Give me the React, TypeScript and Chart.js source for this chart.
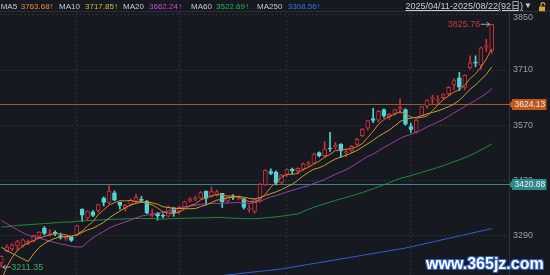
import React, { useEffect, useRef } from "react";
import { Chart, registerables } from "chart.js";

Chart.register(...registerables);

const FONT = "'Liberation Sans', Arial, 'Noto Sans CJK SC', sans-serif";
const BG = "#161a20";
const UP = "#c9303a";
const DOWN = "#4fd6d6";
const GRID = "#2b2f37";
const TICK_COLOR = "#9a9ea6";

const dates = [
  "2025/04/11", "2025/04/14", "2025/04/15", "2025/04/16", "2025/04/17", "2025/04/18", "2025/04/21", "2025/04/22", "2025/04/23", "2025/04/24", "2025/04/25", "2025/04/28", "2025/04/29", "2025/04/30",
  "2025/05/06", "2025/05/07", "2025/05/08", "2025/05/09", "2025/05/12", "2025/05/13", "2025/05/14", "2025/05/15", "2025/05/16", "2025/05/19", "2025/05/20", "2025/05/21", "2025/05/22", "2025/05/23", "2025/05/26", "2025/05/27", "2025/05/28", "2025/05/29", "2025/05/30",
  "2025/06/03", "2025/06/04", "2025/06/05", "2025/06/06", "2025/06/09", "2025/06/10", "2025/06/11", "2025/06/12", "2025/06/13", "2025/06/16", "2025/06/17", "2025/06/18", "2025/06/19", "2025/06/20", "2025/06/23", "2025/06/24", "2025/06/25", "2025/06/26", "2025/06/27", "2025/06/30",
  "2025/07/01", "2025/07/02", "2025/07/03", "2025/07/04", "2025/07/07", "2025/07/08", "2025/07/09", "2025/07/10", "2025/07/11", "2025/07/14", "2025/07/15", "2025/07/16", "2025/07/17", "2025/07/18", "2025/07/21", "2025/07/22", "2025/07/23", "2025/07/24", "2025/07/25", "2025/07/28", "2025/07/29", "2025/07/30", "2025/07/31",
  "2025/08/01", "2025/08/04", "2025/08/05", "2025/08/06", "2025/08/07", "2025/08/08", "2025/08/11", "2025/08/12", "2025/08/13", "2025/08/14", "2025/08/15", "2025/08/18", "2025/08/19", "2025/08/20", "2025/08/21", "2025/08/22",
];

const opens = [
  3222, 3253, 3257, 3265, 3266, 3272, 3277, 3289, 3310, 3294, 3299, 3291, 3282, 3287,
  3292, 3358, 3336, 3351, 3355, 3386, 3375, 3399, 3375, 3360, 3370, 3378, 3383, 3378, 3342, 3348, 3342, 3340, 3361,
  3352, 3364, 3378, 3383, 3386, 3403, 3391, 3395, 3398, 3378, 3389, 3386, 3384, 3357, 3352, 3378, 3420, 3453, 3452, 3425,
  3446, 3459, 3455, 3459, 3469, 3474, 3501, 3493, 3512, 3515, 3522, 3500, 3505, 3522, 3544, 3563, 3587, 3583, 3610, 3592, 3600, 3612, 3610,
  3567, 3553, 3595, 3619, 3636, 3633, 3640, 3650, 3672, 3690, 3666, 3716, 3730, 3722, 3768, 3758,
];

const highs = [
  3240, 3268, 3270, 3279, 3283, 3280, 3292, 3301, 3314, 3306, 3303, 3297, 3289, 3288,
  3317, 3359, 3354, 3354, 3370, 3389, 3418, 3404, 3376, 3370, 3384, 3396, 3390, 3380, 3358, 3350, 3346, 3366, 3362,
  3365, 3378, 3387, 3391, 3403, 3404, 3414, 3406, 3398, 3390, 3395, 3392, 3385, 3369, 3383, 3423, 3458, 3460, 3455, 3446,
  3460, 3462, 3463, 3475, 3479, 3500, 3503, 3529, 3552, 3527, 3524, 3510, 3519, 3537, 3562, 3583, 3613, 3608, 3612, 3600, 3611, 3637, 3612,
  3576, 3585, 3618, 3635, 3646, 3645, 3650, 3668, 3688, 3704, 3698, 3746, 3746, 3768, 3788, 3825.76,
];

const lows = [
  3211.35, 3250, 3253, 3254, 3262, 3268, 3275, 3285, 3293, 3290, 3291, 3282, 3279, 3276,
  3291, 3327, 3330, 3339, 3350, 3366, 3372, 3379, 3358, 3353, 3366, 3375, 3375, 3346, 3338, 3330, 3336, 3338, 3340,
  3345, 3362, 3376, 3379, 3385, 3370, 3388, 3391, 3362, 3374, 3382, 3381, 3358, 3350, 3348, 3376, 3418, 3445, 3419, 3422,
  3441, 3447, 3447, 3456, 3466, 3473, 3490, 3490, 3504, 3510, 3490, 3491, 3501, 3520, 3541, 3558, 3577, 3578, 3590, 3585, 3596, 3600, 3570,
  3552, 3550, 3594, 3613, 3625, 3626, 3637, 3645, 3660, 3658, 3660, 3712, 3718, 3712, 3757, 3752,
];

const closes = [
  3238.23, 3262.81, 3267.66, 3276.0, 3280.34, 3276.73, 3291.43, 3299.76, 3296.36, 3297.29, 3295.06, 3288.41, 3286.65, 3279.03,
  3316.11, 3342.67, 3352.0, 3342.0, 3369.24, 3374.87, 3403.95, 3380.82, 3367.46, 3367.58, 3380.48, 3387.57, 3380.19, 3348.37, 3346.84, 3340.69, 3339.93, 3363.45, 3347.49,
  3361.98, 3376.2, 3384.1, 3385.36, 3399.77, 3384.82, 3402.32, 3402.66, 3377.0, 3388.73, 3387.4, 3388.81, 3362.11, 3359.9, 3381.58, 3420.57, 3455.97, 3448.45, 3424.23, 3444.43,
  3457.75, 3454.79, 3461.15, 3472.32, 3473.13, 3497.48, 3493.05, 3509.68, 3510.18, 3519.65, 3505.0, 3503.78, 3516.83, 3534.48, 3559.79, 3581.86, 3582.3, 3605.73, 3593.66, 3597.94, 3609.71, 3615.72, 3573.21,
  3559.95, 3583.31, 3617.6, 3633.99, 3639.67, 3635.13, 3647.55, 3665.92, 3683.46, 3666.44, 3696.77, 3728.03, 3727.29, 3766.21, 3771.1, 3825.76,
];

// closes of the 19 sessions before the first candle (for MA5/10/20)
const priorCloses = [
  3419.56, 3426.43, 3429.76, 3426.43, 3408.95, 3364.83, 3370.03, 3369.98, 3373.75, 3373.75,
  3351.31, 3335.75, 3348.44, 3350.13, 3342.01, 3096.58, 3145.55, 3186.81, 3223.64,
];

// MA60 for the first 59 candles (needs history before the window)
const ma60Head = [
  3312.7, 3313.5, 3315.2, 3317.1, 3317.8, 3318.6, 3319.5, 3320.5, 3321.4, 3322.3, 3323.6, 3324.6, 3325.2, 3325.6,
  3327.1, 3328.3, 3329.1, 3329.4, 3330.3, 3330.7, 3331.9, 3332.5, 3332.7, 3333.4, 3333.9, 3334.5, 3334.5, 3334.1, 3334.1, 3333.4, 3332.6, 3333.3, 3333.8,
  3334.5, 3335.0, 3335.1, 3335.3, 3335.8, 3335.9, 3336.4, 3337.1, 3336.4, 3335.8, 3335.1, 3334.5, 3333.7, 3333.6, 3333.8, 3334.7, 3336.0, 3337.3, 3338.5, 3340.3,
  3342.1, 3343.8, 3345.8, 3352.1, 3357.5, 3362.7,
];

const ma250 = [
  3150.0, 3150.8, 3151.6, 3152.4, 3153.2, 3154.0, 3154.8, 3155.6, 3156.4, 3157.2, 3158.0, 3158.8, 3159.6, 3160.4,
  3161.3, 3162.1, 3163.0, 3163.8, 3164.7, 3165.5, 3166.4, 3167.2, 3168.1, 3168.9, 3169.8, 3170.6, 3171.5, 3172.3, 3173.2, 3174.0, 3174.9, 3175.7, 3176.6,
  3178.1, 3179.6, 3181.1, 3182.6, 3184.1, 3185.6, 3187.1, 3188.6, 3190.1, 3191.6, 3193.1, 3194.6, 3196.1, 3197.6, 3199.1, 3200.6, 3202.1, 3203.6, 3205.1, 3206.6,
  3208.9, 3211.2, 3213.5, 3215.8, 3218.1, 3220.4, 3222.7, 3225.0, 3227.3, 3229.6, 3231.9, 3234.2, 3236.5, 3238.8, 3241.1, 3243.4, 3245.7, 3248.0, 3250.3, 3252.6, 3254.9, 3257.2, 3259.5,
  3262.6, 3265.6, 3268.7, 3271.8, 3274.8, 3277.9, 3281.0, 3284.0, 3287.1, 3290.2, 3293.2, 3296.3, 3299.4, 3302.4, 3305.5, 3308.56,
];

const yTickValues = [3290, 3430, 3570, 3710, 3850];
const Y_MIN = 3191.3;
const Y_MAX = 3856.8;
const lastPrice = 3624.13;
const refPrice = 3420.88;

const allCloses = [...priorCloses, ...closes];
const P = priorCloses.length;
function sma(n: number): number[] {
  return closes.map((_, i) => {
    const end = i + P;
    let s = 0;
    for (let k = end - n + 1; k <= end; k++) s += allCloses[k];
    return s / n;
  });
}
const ma5 = sma(5);
const ma10 = sma(10);
const ma20 = sma(20);
const ma60 = closes.map((_, i) => {
  if (i < ma60Head.length) return ma60Head[i];
  let s = 0;
  for (let k = i - 59; k <= i; k++) s += closes[k];
  return s / 60;
});

const monthStarts = dates
  .map((d, i) => (i > 0 && d.slice(5, 7) !== dates[i - 1].slice(5, 7) ? i : -1))
  .filter((i) => i >= 0);

const last = closes.length - 1;
const maSeries = [
  { name: "MA5", values: ma5, line: "#e07d27", text: "#f08a2e", lx: 0.7, vx: 20.7 },
  { name: "MA10", values: ma10, line: "#c2a337", text: "#d9b93a", lx: 59, vx: 85 },
  { name: "MA20", values: ma20, line: "#a03ca4", text: "#d046d0", lx: 123, vx: 149 },
  { name: "MA60", values: ma60, line: "#1f8a3c", text: "#22b352", lx: 191, vx: 216 },
  { name: "MA250", values: ma250, line: "#2f5fd0", text: "#3473e6", lx: 257, vx: 287.7 },
];

// tick labels that would cross the top edge are pushed down below it
const isEdgeTick = (v: number) => Y_MAX - v < 13;

function arrowHead(ctx: CanvasRenderingContext2D, x: number, y: number, dir: number) {
  ctx.beginPath();
  ctx.moveTo(x, y);
  ctx.lineTo(x - dir * 3, y - 2.2);
  ctx.moveTo(x, y);
  ctx.lineTo(x - dir * 3, y + 2.2);
  ctx.stroke();
}

const overlayPlugin = {
  id: "overlays",
  beforeDatasetsDraw(chart: any) {
    const { ctx, chartArea, scales } = chart;
    const y = scales.y;
    ctx.save();
    ctx.lineWidth = 1;
    const lines: [number, string][] = [
      [lastPrice, "#9c5a2e"],
      [refPrice, "#3a8488"],
    ];
    lines.forEach(([v, c]) => {
      const py = Math.round(y.getPixelForValue(v)) + 0.5;
      ctx.strokeStyle = c;
      ctx.beginPath();
      ctx.moveTo(chartArea.left, py);
      ctx.lineTo(chartArea.right, py);
      ctx.stroke();
    });
    ctx.restore();
  },
  afterDraw(chart: any) {
    const { ctx, chartArea, scales } = chart;
    const x = scales.x;
    const y = scales.y;
    ctx.save();

    // clamped top tick label
    ctx.font = `9px ${FONT}`;
    ctx.fillStyle = TICK_COLOR;
    ctx.textAlign = "left";
    ctx.textBaseline = "middle";
    yTickValues.filter(isEdgeTick).forEach((v) => {
      const py = Math.max(y.getPixelForValue(v), chartArea.top + 5.5);
      ctx.fillText(String(v), chartArea.right + 4, py);
    });

    // price tags on the axis
    const tags: [number, string][] = [
      [lastPrice, "#c2581c"],
      [refPrice, "#2c8a8c"],
    ];
    tags.forEach(([v, c]) => {
      const py = Math.round(y.getPixelForValue(v)) + 0.5;
      const r = chartArea.right;
      ctx.fillStyle = c;
      ctx.beginPath();
      ctx.moveTo(r, py);
      ctx.lineTo(r + 3, py - 4);
      ctx.lineTo(r + 3, py + 4);
      ctx.closePath();
      ctx.fill();
      ctx.fillRect(r + 3, py - 5.5, 34.5, 11);
      ctx.fillStyle = "#f2f2f2";
      ctx.font = `8.5px ${FONT}`;
      ctx.textAlign = "left";
      ctx.textBaseline = "middle";
      ctx.fillText(v.toFixed(2), r + 5.5, py + 0.5);
    });

    // highest / lowest markers
    let hi = 0;
    let lo = 0;
    highs.forEach((h, i) => { if (h > highs[hi]) hi = i; });
    lows.forEach((l, i) => { if (l < lows[lo]) lo = i; });
    ctx.font = `9px ${FONT}`;
    ctx.textBaseline = "middle";
    ctx.strokeStyle = "#a0a4ac";
    ctx.lineWidth = 1;

    const hx = x.getPixelForValue(hi);
    const hy = y.getPixelForValue(highs[hi]);
    ctx.beginPath();
    ctx.moveTo(hx - 11, hy);
    ctx.lineTo(hx - 2, hy);
    ctx.stroke();
    arrowHead(ctx, hx - 2, hy, 1);
    ctx.fillStyle = "#d2323c";
    ctx.textAlign = "right";
    ctx.fillText(highs[hi].toFixed(2), hx - 11.5, hy + 0.5);

    const lx = x.getPixelForValue(lo);
    const ly = y.getPixelForValue(lows[lo]);
    ctx.beginPath();
    ctx.moveTo(lx + 1.5, ly);
    ctx.lineTo(lx + 9.5, ly);
    ctx.stroke();
    arrowHead(ctx, lx + 1.5, ly, -1);
    ctx.fillStyle = "#38a85c";
    ctx.textAlign = "left";
    ctx.fillText(lows[lo].toFixed(2), lx + 10, ly + 0.5);
    ctx.restore();
  },
};

export default function App() {
  const ref = useRef<HTMLCanvasElement>(null);

  useEffect(() => {
    const canvas = ref.current;
    if (!canvas) return;
    const idx = closes.map((_, i) => i);
    const up = closes.map((c, i) => c >= opens[i]);

    const lineSets = maSeries.map((m) => ({
      type: "line" as const,
      label: m.name,
      data: idx.map((i) => ({ x: i, y: m.values[i] })),
      borderColor: m.line,
      borderWidth: 1,
      pointRadius: 0,
      tension: 0,
      order: 1,
    }));

    const chart = new Chart(canvas, {
      type: "bar",
      data: {
        datasets: [
          ...lineSets,
          {
            type: "bar",
            label: "body",
            data: idx.map((i) => ({ x: i, y: [Math.min(opens[i], closes[i]), Math.max(opens[i], closes[i])] })),
            backgroundColor: up.map((u) => (u ? BG : DOWN)),
            borderColor: up.map((u) => (u ? UP : DOWN)),
            borderWidth: 1,
            borderSkipped: false,
            barThickness: 4,
            grouped: false,
            minBarLength: 1,
            order: 2,
          },
          {
            type: "bar",
            label: "wick",
            data: idx.map((i) => ({ x: i, y: [lows[i], highs[i]] })),
            backgroundColor: up.map((u) => (u ? UP : DOWN)),
            borderWidth: 0,
            barThickness: 1,
            grouped: false,
            order: 3,
          },
        ] as any,
      },
      options: {
        animation: false,
        responsive: false,
        maintainAspectRatio: false,
        events: [],
        layout: { padding: { top: 12, left: 0, right: 0, bottom: 0 } },
        plugins: { legend: { display: false }, tooltip: { enabled: false } },
        scales: {
          x: {
            type: "linear",
            min: -0.24,
            max: 94.21,
            offset: false,
            grid: { display: true, color: GRID, lineWidth: 1, drawTicks: false, offset: false },
            border: { display: false, dash: [2, 2] },
            ticks: { display: false },
            afterBuildTicks: (s: any) => {
              s.ticks = monthStarts.map((v) => ({ value: v }));
            },
            afterFit: (s: any) => {
              s.height = 0;
              s.paddingLeft = 0;
              s.paddingRight = 0;
            },
          },
          y: {
            type: "linear",
            position: "right",
            min: Y_MIN,
            max: Y_MAX,
            beginAtZero: false,
            grid: { color: GRID, lineWidth: 1, drawTicks: false },
            border: { display: true, color: "#30343c", width: 1, dash: [2, 2] },
            ticks: {
              color: TICK_COLOR,
              font: { family: FONT, size: 9 },
              padding: 4,
              callback: (v: any) => (isEdgeTick(Number(v)) ? "" : String(v)),
            },
            afterBuildTicks: (s: any) => {
              s.ticks = yTickValues.map((v) => ({ value: v }));
            },
            afterFit: (s: any) => {
              s.width = 41;
              s.paddingTop = 0;
              s.paddingBottom = 0;
            },
          },
        },
      } as any,
      plugins: [overlayPlugin],
    });
    return () => chart.destroy();
  }, []);

  const rangeText = `${dates[0]}-${dates[last]}(${dates.length}日)`;

  return (
    <div
      style={{
        position: "fixed",
        left: 0,
        top: 0,
        width: 550,
        height: 275,
        background: BG,
        overflow: "hidden",
        fontFamily: FONT,
      }}
    >
      <canvas
        ref={ref}
        width={550}
        height={275}
        style={{ position: "absolute", left: 0, top: 0, width: 550, height: 275 }}
      />
      <div
        style={{
          position: "absolute",
          left: 0,
          top: 0,
          width: 550,
          height: 12,
          borderBottom: "1px solid #2a2e36",
          boxSizing: "border-box",
        }}
      />
      {maSeries.map((m) => (
        <React.Fragment key={m.name}>
          <span style={{ position: "absolute", left: m.lx, top: 0.5, fontSize: 8, lineHeight: "12px", color: "#c6c9cf", whiteSpace: "nowrap" }}>
            {m.name}
          </span>
          <span style={{ position: "absolute", left: m.vx, top: 0.5, fontSize: 8, lineHeight: "12px", color: m.text, whiteSpace: "nowrap" }}>
            {m.values[last].toFixed(2)}↑
          </span>
        </React.Fragment>
      ))}
      <span
        style={{
          position: "absolute",
          left: 405.5,
          top: 0,
          fontSize: 9,
          lineHeight: "12px",
          color: "#c8cbd1",
          textDecoration: "underline",
          whiteSpace: "nowrap",
        }}
      >
        {rangeText}
      </span>
      <span style={{ position: "absolute", left: 524, top: 0, fontSize: 8, lineHeight: "12px", color: "#c8cbd1" }}>▼</span>
      <svg width="9" height="10" viewBox="0 0 9 10" style={{ position: "absolute", left: 537.5, top: 1.5 }}>
        <path d="M3 4.6 V2.6 A1.9 1.9 0 0 1 6.8 2.6 V3.2" stroke="#e3a328" fill="none" strokeWidth="1.2" />
        <rect x="1" y="4.6" width="6" height="4.6" fill="#e3a328" />
      </svg>
      <span
        style={{
          position: "absolute",
          left: 426,
          top: 255.5,
          fontSize: 16,
          lineHeight: "16px",
          fontWeight: "bold",
          color: "#ffffff",
          whiteSpace: "nowrap",
          textShadow:
            "1px 0 #2f5fc4, -1px 0 #2f5fc4, 0 1px #2f5fc4, 0 -1px #2f5fc4, 1px 1px #2f5fc4, -1px -1px #2f5fc4, 1px -1px #2f5fc4, -1px 1px #2f5fc4",
        }}
      >
        www.365jz.com
      </span>
    </div>
  );
}
